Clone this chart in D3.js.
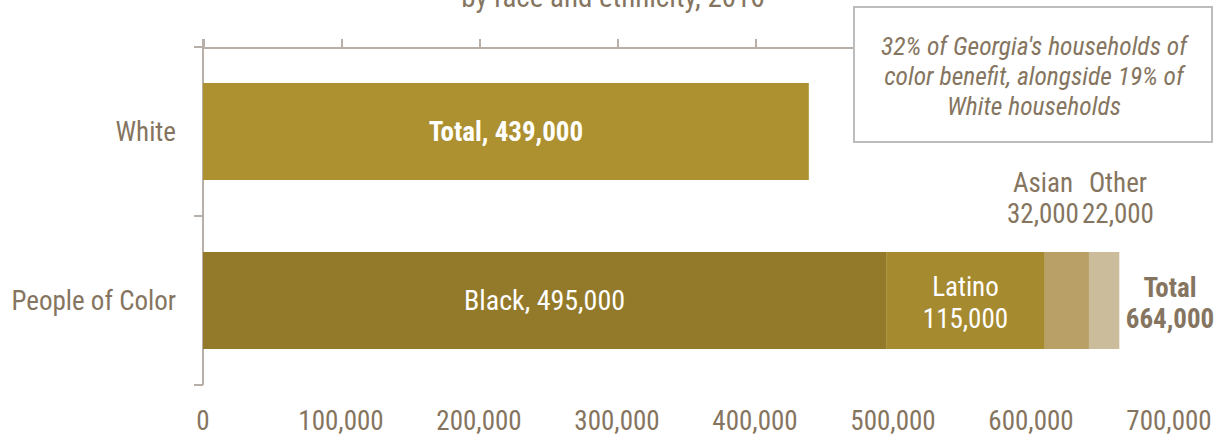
<!DOCTYPE html>
<html>
<head>
<meta charset="utf-8">
<title>Households by race and ethnicity</title>
<script src="https://d3js.org/d3.v7.min.js"></script>
<style>
  body { margin: 0; background: #fff; }
  svg text { font-family: "Roboto Condensed", "Liberation Sans Narrow", "DejaVu Sans Condensed", "Roboto", sans-serif; fill: #857560; }
  .axis path, .axis line { stroke: #b8b0a8; stroke-width: 2; fill: none; shape-rendering: crispEdges; }
</style>
</head>
<body>
<div id="chart"></div>
<script>
// data
var categories = ["White", "People of Color"];
var whiteTotal = 439000;
var pocGroups = ["Black", "Latino", "Asian", "Other"];
var pocValues = [495000, 115000, 32000, 22000];
var pocTotal = 664000;
var xTicks = [0, 100000, 200000, 300000, 400000, 500000, 600000, 700000];
var noteLines = ["32% of Georgia's households of", "color benefit, alongside 19% of", "White households"];

var width = 1219, height = 436;
var svg = d3.select("#chart").append("svg")
    .attr("width", width)
    .attr("height", height);

var x = d3.scaleLinear().domain([0, 700000]).range([203, 1169]);
var y = d3.scaleBand().domain(categories).range([47, 385]).paddingInner(0.426).paddingOuter(0.213);
var colors = d3.scaleOrdinal().domain(pocGroups).range(["#937a2a", "#a68a30", "#b8a067", "#cbbd9c"]);
var fmt = d3.format(",");

// title (cut off at top, as in the source)
svg.append("text")
    .attr("x", 613).attr("y", 7)
    .attr("text-anchor", "middle")
    .style("font-size", "29px")
    .text("by race and ethnicity, 2016");

// top axis
svg.append("g")
    .attr("class", "axis")
    .attr("transform", "translate(0,47)")
    .call(d3.axisTop(x).tickValues(xTicks).tickSize(8).tickSizeOuter(0).tickFormat(""));

// left axis, ticks between bands
var yEdges = [47, 47 + y.step(), 385];
var yl = svg.append("g").attr("class", "axis");
yl.append("line").attr("x1", 203).attr("x2", 203).attr("y1", 39).attr("y2", 385);
yl.selectAll(".tk").data(yEdges).enter().append("line")
    .attr("x1", 194).attr("x2", 203)
    .attr("y1", function(d) { return d; }).attr("y2", function(d) { return d; });

// category labels
svg.selectAll(".cat").data(categories).enter().append("text")
    .attr("x", 176)
    .attr("y", function(d) { return y(d) + y.bandwidth() / 2; })
    .attr("dy", "0.35em")
    .attr("text-anchor", "end")
    .style("font-size", "27px")
    .text(function(d) { return d; });

// bottom tick labels
svg.selectAll(".xl").data(xTicks).enter().append("text")
    .attr("x", function(d) { return x(d); })
    .attr("y", 430)
    .attr("text-anchor", "middle")
    .style("font-size", "27px")
    .text(function(d) { return fmt(d); });

// White bar
svg.append("rect")
    .attr("x", x(0)).attr("y", y("White"))
    .attr("width", x(whiteTotal) - x(0)).attr("height", y.bandwidth())
    .attr("fill", "#ad9130");
svg.append("text")
    .attr("x", (x(0) + x(whiteTotal)) / 2)
    .attr("y", y("White") + y.bandwidth() / 2).attr("dy", "0.35em")
    .attr("text-anchor", "middle")
    .style("font-size", "27px").style("font-weight", "bold").style("fill", "#fff")
    .text("Total, " + fmt(whiteTotal));

// People of Color stacked bar
var stack = [];
var acc = 0;
pocGroups.forEach(function(g, i) {
    stack.push({ name: g, value: pocValues[i], x0: acc, x1: acc + pocValues[i] });
    acc += pocValues[i];
});
var py = y("People of Color");
svg.selectAll(".seg").data(stack).enter().append("rect")
    .attr("x", function(d) { return x(d.x0); })
    .attr("y", py)
    .attr("width", function(d) { return x(d.x1) - x(d.x0); })
    .attr("height", y.bandwidth())
    .attr("fill", function(d) { return colors(d.name); });

var mid = py + y.bandwidth() / 2;
// Black label
svg.append("text")
    .attr("x", (x(stack[0].x0) + x(stack[0].x1)) / 2).attr("y", mid).attr("dy", "0.35em")
    .attr("text-anchor", "middle").style("font-size", "28px").style("fill", "#fff")
    .text("Black, " + fmt(stack[0].value));
// Latino label
var latX = (x(stack[1].x0) + x(stack[1].x1)) / 2;
var lat = svg.append("text")
    .attr("text-anchor", "middle").style("font-size", "27px").style("fill", "#fff");
lat.append("tspan").attr("x", latX).attr("y", mid - 5).text("Latino");
lat.append("tspan").attr("x", latX).attr("y", mid + 27).text(fmt(stack[1].value));
// Asian and Other labels above bar
var small = [{ d: stack[2], cx: x(stack[2].x1) - 46 }, { d: stack[3], cx: x(stack[3].x0) + 29 }];
small.forEach(function(s) {
    var t = svg.append("text").attr("text-anchor", "middle").style("font-size", "27px");
    t.append("tspan").attr("x", s.cx).attr("y", 192).text(s.d.name);
    t.append("tspan").attr("x", s.cx).attr("y", 223).text(fmt(s.d.value));
});
// Total label
var tot = svg.append("text").attr("text-anchor", "middle")
    .style("font-size", "27px").style("font-weight", "bold");
tot.append("tspan").attr("x", 1170).attr("y", mid - 4).text("Total");
tot.append("tspan").attr("x", 1170).attr("y", mid + 27).text(fmt(pocTotal));

// note box
svg.append("rect")
    .attr("x", 854).attr("y", 7).attr("width", 358).attr("height", 135)
    .attr("fill", "#fff").attr("stroke", "#bdbdbd").attr("stroke-width", 2);
svg.selectAll(".note").data(noteLines).enter().append("text")
    .attr("x", 1034)
    .attr("y", function(d, i) { return 55 + i * 30; })
    .attr("text-anchor", "middle")
    .style("font-size", "25.5px").style("font-style", "italic")
    .text(function(d) { return d; });
</script>
</body>
</html>
